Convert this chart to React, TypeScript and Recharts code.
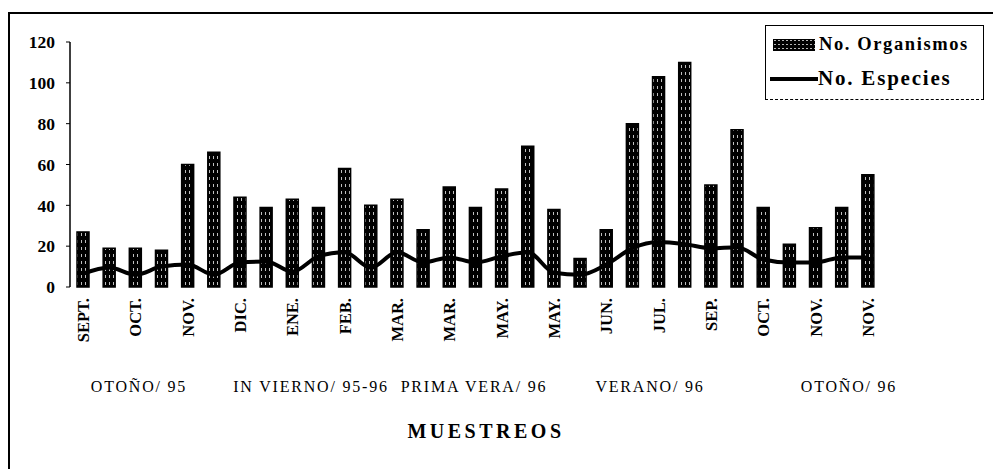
import React from "react";
import { ComposedChart, Bar, Line, XAxis, YAxis } from "recharts";

const monthLabels = [
  "SEPT.", "OCT.", "NOV.", "DIC.", "ENE.", "FEB.", "MAR.", "MAR.",
  "MAY.", "MAY.", "JUN.", "JUL.", "SEP.", "OCT.", "NOV.", "NOV.",
];
const organismos = [
  27, 19, 19, 18, 60, 66, 44, 39, 43, 39, 58, 40, 43, 28, 49, 39,
  48, 69, 38, 14, 28, 80, 103, 110, 50, 77, 39, 21, 29, 39, 55,
];
const especies = [
  6.5, 9.5, 6, 10, 11, 6, 12, 12.5, 7.5, 15, 17, 9.5, 17, 12, 14.5, 12,
  15, 17, 7, 6, 11, 19, 22, 21, 19, 19.5, 13.5, 12, 12, 14.5, 14.5,
];
const yTicks = [0, 20, 40, 60, 80, 100, 120];
const seasons = ["OTOÑO/ 95", "IN VIERNO/ 95-96", "PRIMA VERA/ 96", "VERANO/ 96", "OTOÑO/ 96"];
const seasonCenters = [131, 303, 466, 642, 841];

const data = organismos.map((v, i) => ({
  i,
  org: v,
  esp: especies[i],
}));
const boundaryTicks = Array.from({ length: organismos.length + 1 }, (_, k) => k);

const FONT = '"Liberation Serif", "Times New Roman", serif';

const MonthTick = (props: any) => {
  const { x, y, index } = props;
  if (index % 2 !== 0) return null;
  const label = monthLabels[index / 2];
  return (
    <g transform={`translate(${x},${y})`}>
      <text
        transform="rotate(-90)"
        textAnchor="end"
        dy="0.36em"
        fontFamily={FONT}
        fontWeight="bold"
        fontSize={16.5}
        fill="#000"
      >
        {label}
      </text>
    </g>
  );
};

export default function App() {
  return (
    <div style={{ position: "relative", width: 993, height: 461, background: "#fff" }}>
      <div
        style={{
          position: "absolute",
          left: 0,
          top: 4,
          width: 993,
          height: 457,
          borderLeft: "2px solid #000",
          borderTop: "2px solid #000",
          boxSizing: "border-box",
        }}
      />
      <ComposedChart
        width={993}
        height={453}
        data={data}
        margin={{ top: 34, right: 120, bottom: 114, left: 0 }}
      >
        <defs>
          <pattern id="hatch" width="4" height="7" patternUnits="userSpaceOnUse">
            <rect width="4" height="7" fill="#000" />
            <rect x="1" y="1" width="1" height="3" fill="#fff" opacity="0.75" />
          </pattern>
        </defs>
        <XAxis
          xAxisId="bound"
          type="number"
          dataKey="i"
          domain={[0, organismos.length]}
          ticks={boundaryTicks}
          tickFormatter={() => ""}
          height={0}
          axisLine={{ stroke: "#000", strokeWidth: 1.5 }}
          tickLine={{ stroke: "#000", strokeWidth: 1 }}
          tickSize={4}
        />
        <XAxis
          dataKey="i"
          interval={0}
          axisLine={false}
          tickLine={false}
          tickSize={6}
          tickMargin={5}
          height={60}
          tick={<MonthTick />}
        />
        <YAxis
          width={62}
          domain={[0, 120]}
          ticks={yTicks}
          interval={0}
          axisLine={{ stroke: "#000", strokeWidth: 1.5 }}
          tickLine={{ stroke: "#000", strokeWidth: 1 }}
          tickSize={4}
          tickMargin={11}
          tick={{ fontFamily: FONT, fontWeight: "bold", fontSize: 17.5, fill: "#000" }}
        />
        <Bar
          dataKey="org"
          barSize={12}
          fill="url(#hatch)"
          stroke="#000"
          strokeWidth={1.5}
          isAnimationActive={false}
        />
        <Line
          dataKey="esp"
          type="monotone"
          stroke="#000"
          strokeWidth={4}
          dot={false}
          activeDot={false}
          isAnimationActive={false}
        />
      </ComposedChart>
      {seasons.map((s, k) => (
        <div
          key={k}
          style={{
            position: "absolute",
            left: seasonCenters[k] - 110,
            width: 220,
            top: 370,
            textAlign: "center",
            fontFamily: FONT,
            fontSize: 16,
            letterSpacing: 1.8,
            color: "#000",
            whiteSpace: "nowrap",
          }}
        >
          {s}
        </div>
      ))}
      <div
        style={{
          position: "absolute",
          left: 378,
          width: 200,
          top: 412,
          textAlign: "center",
          fontFamily: FONT,
          fontWeight: "bold",
          fontSize: 20,
          letterSpacing: 3.5,
          color: "#000",
        }}
      >
        MUESTREOS
      </div>
      <div
        style={{
          position: "absolute",
          left: 757,
          top: 17,
          width: 219,
          height: 75,
          borderLeft: "1.5px solid #000",
          borderRight: "1.5px solid #000",
          borderTop: "1.5px solid #000",
          borderBottom: "1.5px dashed #000",
          boxSizing: "border-box",
          fontFamily: FONT,
          fontWeight: "bold",
          color: "#000",
          whiteSpace: "nowrap",
        }}
      >
        <div style={{ position: "absolute", left: 7, top: 8, display: "flex", alignItems: "center" }}>
          <svg width={42} height={12} style={{ display: "block" }}>
            <defs>
              <pattern id="hatch2" width="4" height="4" patternUnits="userSpaceOnUse">
                <rect width="4" height="4" fill="#000" />
                <rect x="1" y="1" width="2" height="1" fill="#fff" opacity="0.7" />
              </pattern>
            </defs>
            <rect x={0} y={0} width={42} height={12} fill="url(#hatch2)" />
          </svg>
          <span style={{ marginLeft: 4, fontSize: 18.5, letterSpacing: 1.6 }}>No. Organismos</span>
        </div>
        <div style={{ position: "absolute", left: 4, top: 40, display: "flex", alignItems: "center" }}>
          <svg width={48} height={6} style={{ display: "block" }}>
            <line x1={0} y1={3} x2={48} y2={3} stroke="#000" strokeWidth={4} />
          </svg>
          <span style={{ marginLeft: 0, fontSize: 21, letterSpacing: 1.8 }}>No. Especies</span>
        </div>
      </div>
    </div>
  );
}
